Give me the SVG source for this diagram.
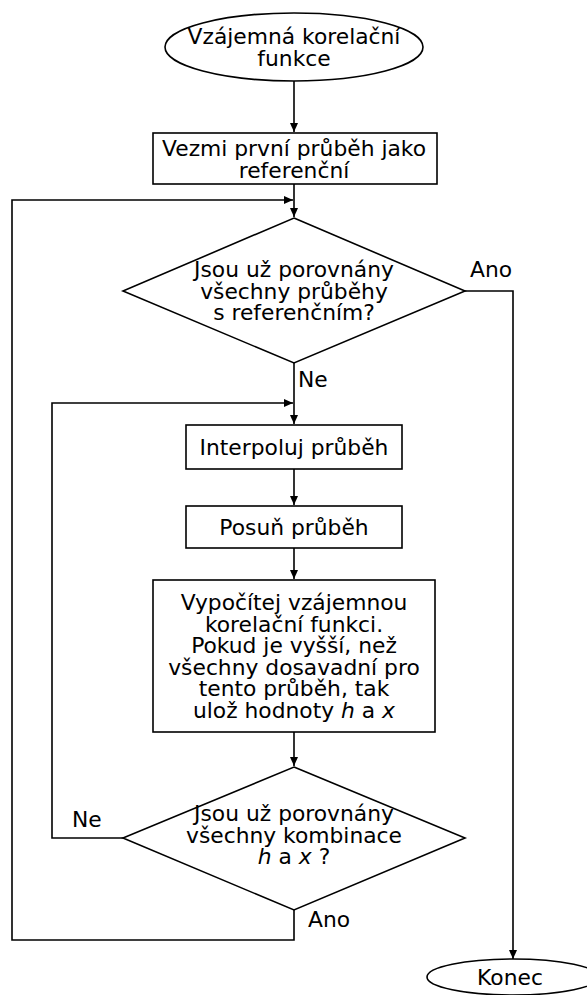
<svg xmlns="http://www.w3.org/2000/svg" width="587" height="995" viewBox="0 0 587 995">
<style>
.s{fill:#fff;stroke:#000;stroke-width:1.6}
.c{fill:none;stroke:#000;stroke-width:1.6}
text{font-family:"DejaVu Sans",Verdana,sans-serif;font-size:21.8px;fill:#000}
.m{text-anchor:middle}
.i{font-style:italic}
</style>
<defs>
<marker id="a" markerWidth="10" markerHeight="8" refX="9" refY="4" orient="auto" markerUnits="userSpaceOnUse">
<path d="M0,0 L9,4 L0,8 Z" fill="#000"/>
</marker>
</defs>
<g id="connectors">
<line class="c" x1="294" y1="81" x2="294" y2="132" marker-end="url(#a)"/>
<line class="c" x1="294" y1="184" x2="294" y2="217" marker-end="url(#a)"/>
<polyline class="c" points="294,910 294,940 12,940 12,200 293,200" marker-end="url(#a)"/>
<polyline class="c" points="465,291 513,291 513,959" marker-end="url(#a)"/>
<line class="c" x1="294" y1="363" x2="294" y2="424" marker-end="url(#a)"/>
<polyline class="c" points="123,838 52,838 52,403 293,403" marker-end="url(#a)"/>
<line class="c" x1="294" y1="469" x2="294" y2="505" marker-end="url(#a)"/>
<line class="c" x1="294" y1="548" x2="294" y2="579" marker-end="url(#a)"/>
<line class="c" x1="294" y1="732" x2="294" y2="766" marker-end="url(#a)"/>
<text x="470" y="277">Ano</text>
<text x="298" y="387">Ne</text>
<text x="72" y="827">Ne</text>
<text x="308" y="927">Ano</text>
</g>
<g id="start">
<ellipse class="s" cx="294" cy="47" rx="129" ry="34"/>
<text class="m" x="294" y="44">Vzájemná korelační</text>
<text class="m" x="294" y="65.5">funkce</text>
</g>
<g id="ref">
<rect class="s" x="153" y="133" width="284" height="51"/>
<text class="m" x="294" y="156">Vezmi první průběh jako</text>
<text class="m" x="294" y="177.5">referenční</text>
</g>
<g id="dec1">
<polygon class="s" points="294,218 465,291 294,363 123,291"/>
<text class="m" x="294" y="277">Jsou už porovnány</text>
<text class="m" x="294" y="298.5">všechny průběhy</text>
<text class="m" x="294" y="320">s referenčním?</text>
</g>
<g id="interp">
<rect class="s" x="186" y="425" width="216" height="44"/>
<text class="m" x="294" y="455">Interpoluj průběh</text>
</g>
<g id="shift">
<rect class="s" x="186" y="506" width="216" height="42"/>
<text class="m" x="294" y="535">Posuň průběh</text>
</g>
<g id="calc">
<rect class="s" x="153" y="580" width="282" height="152"/>
<text class="m" x="294" y="610">Vypočítej vzájemnou</text>
<text class="m" x="294" y="631.5">korelační funkci.</text>
<text class="m" x="294" y="653">Pokud je vyšší, než</text>
<text class="m" x="294" y="674.5">všechny dosavadní pro</text>
<text class="m" x="294" y="696">tento průběh, tak</text>
<text class="m" x="294" y="717.5">ulož hodnoty <tspan class="i">h</tspan> a <tspan class="i">x</tspan></text>
</g>
<g id="dec2">
<polygon class="s" points="294,767 465,838 294,910 123,838"/>
<text class="m" x="294" y="821">Jsou už porovnány</text>
<text class="m" x="294" y="842.5">všechny kombinace</text>
<text class="m" x="294" y="864"><tspan class="i">h</tspan> a <tspan class="i">x</tspan> ?</text>
</g>
<g id="end">
<ellipse class="s" cx="513" cy="977" rx="86" ry="18"/>
<text class="m" x="510" y="985">Konec</text>
</g>
</svg>
